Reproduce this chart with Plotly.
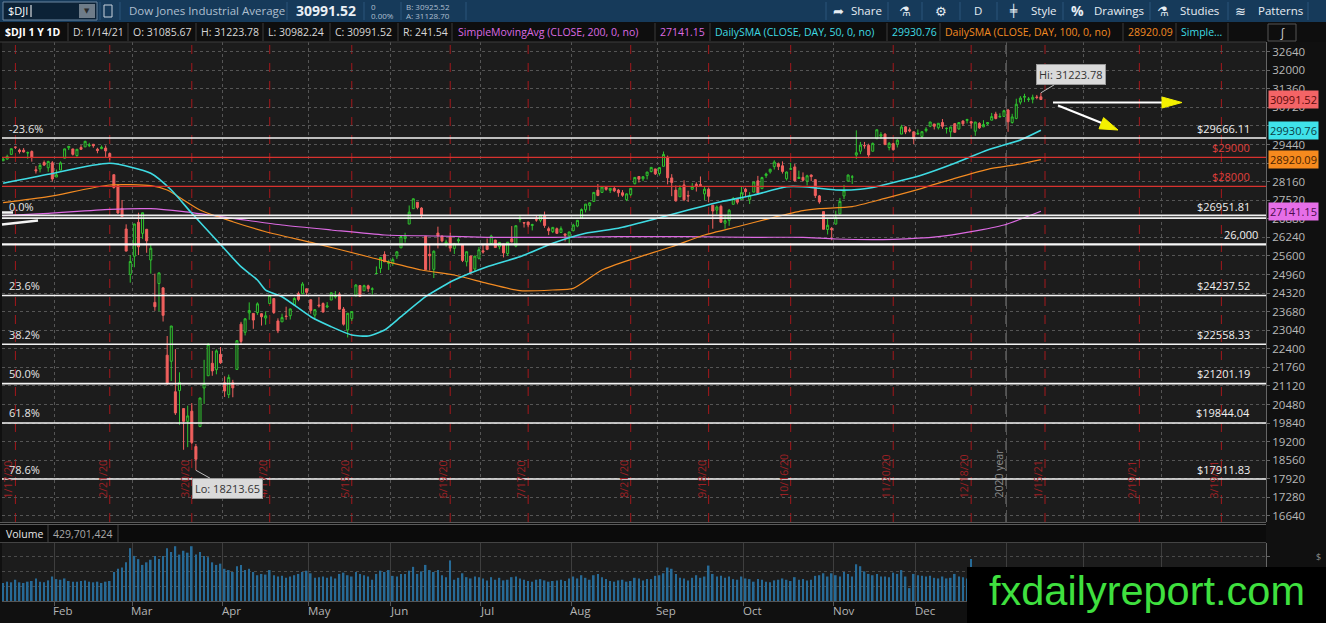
import pandas as pd
import plotly.graph_objects as go

# =========================
# TRADING DAYS
# =========================
HOLIDAYS = ["2020-01-20", "2020-02-17", "2020-04-10", "2020-05-25", "2020-07-03",
            "2020-09-07", "2020-11-26", "2020-12-25", "2021-01-01", "2021-01-18",
            "2021-02-15"]
DAYS = pd.bdate_range("2020-01-14", "2021-03-31", freq="C", holidays=HOLIDAYS)

# =========================
# $DJI DAILY CANDLES (1/14/20 -> 1/14/21)
# =========================
OPENS = [
    28880, 28940, 29100, 29350, 29250, 29245, 29150, 29200, 28570, 28600, 28820, 28640, 28810,
    28320, 28560, 28970, 29330, 29290, 29060, 29340, 29360, 29400, 29450, 29280, 29300, 29320, 29130, 28400, 28030, 27240, 26530, 24960,
    25590, 26760, 26380, 26520, 25460, 24000, 24650, 24500, 22180, 21970, 20920, 20960, 20340, 19900, 20250, 19030, 19720, 21050, 21470, 21900, 21680, 22210,
    21230, 20820, 21230, 21690, 23250, 22970, 23640, 23620, 23650, 23610, 23460, 23960, 24130, 23360, 23330, 23530, 23540, 23910, 24300, 24300, 24470,
    24090, 23560, 23910, 23960, 23840, 24080, 24190, 24270, 23770, 23050, 23440, 24220, 24580, 24400, 24570, 24450, 24990, 25170, 25650, 25340,
    25340, 25600, 25880, 26200, 26700, 27230, 27450, 27250, 26280, 25660, 25140, 26390, 26290, 26000, 26250, 25860, 26120, 25990, 25400, 25600, 25150, 25520,
    25780, 25960, 26030, 26150, 25920, 26010, 25680, 26190, 25940, 26860, 26750, 26770, 26650, 26850, 26830, 26990, 26540, 26440, 26540, 26410, 26360, 26290,
    26470, 26630, 26900, 27190, 27340, 27480, 27870, 27790, 27970, 27860, 27930, 27870, 27780, 27540, 27720, 28090, 28340, 28260, 28370, 28510, 28600,
    28440, 28690, 29000, 28290, 27870, 27640, 28050, 27680, 27900, 28070, 28060, 27740, 27900, 27350, 27180, 27310, 26730, 26830, 27380, 27560, 27550,
    27900, 27540, 27800, 28190, 27920, 28370, 28500, 28680, 28780, 28710, 28260, 28590, 28670, 28270, 28310, 28180, 28390, 28230, 27670, 27130, 26510, 26550,
    26700, 27050, 27670, 28180, 28320, 29080, 29210, 29410, 29410, 29210, 29640, 29730, 29800, 29340, 29470, 29450, 29800, 30050, 29950, 29880,
    29800, 29720, 29920, 30070, 30150, 30020, 30200, 29990, 29880, 30160, 29980, 30250, 30270, 30230, 29900, 30170, 30050, 30150, 30280, 30490, 30390, 30410,
    30630, 30200, 30340, 30900, 31070, 30990, 31000, 31080, 31086,
]
HIGHS = [
    29010, 29090, 29300, 29374, 29300, 29320, 29200, 29240, 28700, 28780, 28890, 28880, 28870,
    28580, 28860, 29300, 29380, 29290, 29280, 29420, 29570, 29500, 29450, 29330, 29410, 29410, 29170, 28400, 28070, 27530, 26690, 25630,
    26710, 27090, 27100, 26530, 25990, 24990, 25020, 24520, 22840, 23190, 22390, 21590, 20340, 20440, 20530, 19120, 20710, 22020, 22600, 22330, 22380, 22460,
    21450, 21510, 21330, 22700, 23330, 23460, 24000, 23620, 24000, 23630, 23690, 24260, 24130, 23450, 23610, 23850, 23790, 24180, 24370, 24700, 24470,
    24090, 23760, 24180, 24000, 24010, 24340, 24390, 24350, 23840, 23630, 23690, 24630, 24600, 24610, 24610, 24520, 25240, 25550, 25760, 25470,
    25550, 25760, 26290, 26400, 27340, 27580, 27450, 27280, 26280, 26000, 25790, 26610, 26300, 26160, 26400, 26050, 26230, 25990, 25750, 25600, 25600, 25910,
    26000, 26200, 26330, 26150, 26080, 26010, 26080, 26630, 26650, 27000, 26770, 26780, 26710, 27000, 27010, 27130, 26610, 26600, 26580, 26620, 26370, 26430,
    26710, 26830, 27240, 27390, 27440, 27800, 28080, 28000, 28010, 27940, 27990, 27910, 27870, 27760, 27940, 28310, 28350, 28340, 28500, 28660, 28600,
    28660, 29200, 29060, 28420, 28030, 28040, 28210, 27850, 28110, 28140, 28340, 27980, 27960, 27350, 27340, 27370, 27000, 27220, 27630, 27560, 27980,
    27950, 27800, 28150, 28360, 28330, 28470, 28610, 28900, 28820, 28860, 28510, 28810, 28770, 28540, 28480, 28400, 28410, 28230, 27700, 27130, 26880, 26600,
    27160, 27600, 28050, 28410, 28390, 29930, 29530, 29530, 29470, 29510, 29960, 29870, 29830, 29530, 29500, 29620, 30120, 30070, 30030, 29880,
    29960, 29900, 30040, 30220, 30150, 30180, 30320, 30030, 30050, 30180, 30200, 30280, 30330, 30230, 30220, 30210, 30280, 30200, 30530, 30570, 30520, 30640,
    30670, 30500, 31020, 31110, 31190, 31080, 31160, 31150, 31224,
]
LOWS = [
    28880, 28920, 29100, 29287, 29128, 29165, 28950, 28850, 28440, 28480, 28700, 28500, 28170,
    28320, 28560, 28970, 29250, 29060, 29020, 29260, 29360, 29350, 29330, 29140, 29280, 28990, 28900, 27920, 27050, 26940, 25760, 24680,
    25210, 25630, 26190, 25710, 24990, 23710, 23690, 23340, 21150, 21290, 20120, 19780, 18920, 19010, 19120, 18214, 19720, 20500, 21470, 21470, 21520, 21880,
    20740, 20700, 20730, 21690, 22570, 22860, 23400, 23090, 23570, 23200, 23230, 23960, 23600, 22940, 23330, 23400, 23410, 23910, 24040, 24300, 24230,
    23610, 23410, 23820, 23660, 23800, 24080, 24130, 23760, 23200, 22790, 23360, 24220, 24200, 24400, 24360, 24270, 24990, 25010, 25400, 25120,
    25260, 25500, 25880, 26060, 26700, 27230, 27210, 26900, 25120, 25100, 24840, 25860, 26070, 25920, 25760, 25670, 26030, 25390, 25240, 24970, 25060, 25480,
    25680, 25800, 26030, 25880, 25830, 25550, 25600, 26070, 25900, 26760, 26580, 26590, 26480, 26780, 26760, 26570, 26320, 26390, 26370, 26410, 26100, 26000,
    26450, 26590, 26900, 27100, 27160, 27460, 27660, 27790, 27850, 27770, 27800, 27640, 27640, 27490, 27660, 28070, 28130, 28180, 28240, 28480, 28390,
    28370, 28690, 28070, 27660, 27470, 27640, 27490, 27460, 27880, 27820, 28010, 27530, 27450, 26540, 27030, 26740, 26540, 26640, 27380, 27380, 27550,
    27630, 27390, 27800, 27720, 27920, 28290, 28440, 28580, 28560, 28440, 28200, 28560, 28160, 28260, 28170, 28030, 28180, 27600, 27400, 26520, 26340, 26140,
    26680, 27050, 27560, 28180, 28080, 28940, 29110, 29300, 28970, 29200, 29640, 29640, 29430, 29240, 29230, 29340, 29800, 29800, 29860, 29450,
    29790, 29660, 29860, 30040, 29960, 29960, 29980, 29820, 29690, 29850, 29950, 30080, 30170, 29990, 29740, 29980, 30040, 30110, 30280, 30310, 30380, 30390,
    29880, 30160, 30310, 30820, 30900, 30910, 30860, 31000, 30982,
]
CLOSES = [
    28940, 29030, 29298, 29348, 29196, 29186, 29160, 28990, 28536, 28723, 28734, 28859, 28256,
    28400, 28808, 29291, 29380, 29103, 29277, 29276, 29551, 29423, 29398, 29232, 29348, 29220, 28992, 27961, 27081, 26958, 25767, 25409,
    26703, 25917, 27091, 26121, 25865, 23851, 25018, 23553, 21201, 23186, 20189, 21237, 19899, 20087, 19174, 18592, 20705, 21201, 22552, 21637, 22327, 21917,
    20944, 21413, 21053, 22680, 22654, 23434, 23719, 23391, 23950, 23504, 23538, 24242, 23650, 23019, 23476, 23515, 23775, 24134, 24102, 24634, 24346,
    23724, 23750, 23883, 23665, 23876, 24331, 24222, 23765, 23248, 23625, 23685, 24597, 24207, 24576, 24474, 24465, 24995, 25548, 25401, 25383,
    25475, 25743, 26270, 26282, 27111, 27572, 27272, 26990, 25128, 25606, 25763, 26290, 26120, 26080, 25871, 26025, 26156, 25446, 25746, 25016, 25596, 25813,
    25735, 25827, 26287, 25890, 26067, 25706, 26075, 26086, 26643, 26870, 26735, 26672, 26681, 26840, 27006, 26652, 26470, 26585, 26379, 26540, 26314, 26428,
    26664, 26828, 27202, 27387, 27433, 27791, 27687, 27977, 27897, 27931, 27845, 27778, 27693, 27740, 27930, 28308, 28248, 28332, 28492, 28654, 28430,
    28646, 29100, 28293, 28133, 27501, 27940, 27535, 27666, 27993, 27996, 28032, 27902, 27657, 27148, 27288, 26763, 26815, 27174, 27584, 27453, 27782,
    27817, 27683, 28149, 27773, 28303, 28426, 28587, 28838, 28680, 28514, 28494, 28606, 28195, 28309, 28211, 28364, 28336, 27685, 27463, 26520, 26659, 26502,
    26925, 27480, 27848, 28390, 28323, 29158, 29421, 29398, 29080, 29480, 29950, 29783, 29438, 29483, 29263, 29591, 30046, 29872, 29910, 29639,
    29824, 29884, 29970, 30218, 30070, 30174, 30069, 29999, 30046, 29862, 30199, 30155, 30303, 30179, 30216, 30016, 30130, 30200, 30404, 30336, 30410, 30606,
    30224, 30392, 30829, 31041, 31098, 31009, 31069, 31060, 30992,
]
# volume, millions of shares
VOLUME = [
    280, 300, 290, 330, 290, 280, 300, 310, 350, 300, 290, 320, 380,
    340, 330, 350, 310, 300, 300, 310, 320, 300, 290, 300, 280, 300, 310, 450, 500, 520, 600, 820,
    700, 650, 560, 600, 640, 700, 650, 700, 820, 760, 850, 720, 780, 750, 850, 720, 760, 700, 680, 600, 560, 580,
    500, 480, 450, 540, 560, 480, 500, 450, 400, 420, 410, 480, 400, 380, 390, 360, 380, 400, 420, 450, 470,
    430, 360, 370, 380, 360, 380, 350, 420, 440, 400, 380, 450, 420, 400, 380, 330, 420, 470, 450, 480,
    390, 380, 420, 420, 470, 530, 420, 460, 560, 480, 450, 480, 400, 370, 630, 330, 360, 430, 370, 350, 380, 370,
    350, 320, 370, 330, 360, 320, 330, 370, 380, 350, 330, 310, 300, 330, 340, 320, 300, 310, 320, 330, 310, 350,
    380, 350, 400, 360, 330, 400, 420, 370, 340, 310, 300, 320, 330, 300, 310, 360, 350, 320, 340, 340, 390,
    400, 430, 520, 500, 420, 360, 350, 320, 360, 400, 360, 380, 550, 420, 380, 390, 360, 380, 340, 330, 380,
    350, 340, 300, 340, 330, 300, 290, 320, 330, 350, 330, 310, 370, 330, 340, 320, 330, 390, 400, 430, 380, 430,
    400, 380, 450, 420, 380, 570, 540, 460, 420, 400, 420, 380, 380, 370, 440, 420, 480, 380, 200, 420,
    400, 390, 380, 390, 360, 350, 380, 350, 360, 420, 380, 370, 350, 650, 400, 350, 340, 240, 330, 300, 330, 400,
    450, 480, 520, 460, 420, 400, 410, 420, 430,
]

# =========================
# MOVING AVERAGES (read off the chart, sampled)
# =========================
SMA50_IDX = [0, 11, 26, 36, 41, 46, 52, 58, 62, 64, 68, 75, 80, 85, 89, 93, 97, 103, 107, 110,
             118, 126, 134, 142, 150, 158, 167, 175, 183, 191, 195, 199, 203, 209, 212, 224, 232, 240, 248, 253]
SMA50_VAL = [28104, 28415, 28794, 28449, 27873, 27070, 26150, 25230, 24771, 24426, 24195, 23506, 23162, 22875,
             22841, 23048, 23506, 24195, 24540, 24771, 25230, 25574, 26036, 26381, 26553, 26839, 27184, 27470,
             27701, 27987, 27987, 27932, 27873, 27898, 27960, 28391, 28794, 29252, 29597, 29931]
SMA100_IDX = [0, 11, 26, 36, 40, 48, 56, 64, 76, 89, 102, 110, 118, 126, 134, 139, 146, 154, 163, 171,
              179, 187, 195, 199, 207, 215, 224, 232, 240, 248, 253]
SMA100_VAL = [27436, 27643, 28046, 28023, 27873, 27184, 26781, 26436, 26036, 25574, 25116, 24944, 24657, 24402,
              24426, 24484, 25116, 25518, 25918, 26322, 26608, 26898, 27160, 27230, 27300, 27587, 27932, 28277,
              28587, 28770, 28920]
SMA200_IDX = [0, 11, 26, 36, 44, 56, 68, 80, 93, 106, 118, 134, 150, 167, 183, 195, 203, 217, 228, 236, 244, 253]
SMA200_VAL = [26988, 27070, 27208, 27229, 27126, 26898, 26667, 26495, 26322, 26288, 26243, 26243, 26264, 26264,
              26243, 26243, 26184, 26174, 26264, 26436, 26667, 27141]

# =========================
# LEVELS / LABELS
# =========================
FIB_LEVELS = [29666.11, 26951.81, 24237.52, 22558.33, 21201.19, 19844.04, 17911.83]
FIB_PCT = ["-23.6%", "0.0%", "23.6%", "38.2%", "50.0%", "61.8%", "78.6%"]
RED_LEVELS = [29000, 28000]
SUPPORT = 26000
Y_TICKS = [16640, 17280, 17920, 18560, 19200, 19840, 20480, 21120, 21760, 22400, 23040, 23680, 24320,
           24960, 25600, 26240, 26880, 27520, 28160, 28800, 29440, 30080, 30720, 31360, 32000, 32640]
HIDDEN_TICKS = [28800, 30080]  # sit under the price tags
EXPIRY = ["2020-01-17", "2020-02-21", "2020-03-20", "2020-04-17", "2020-05-15", "2020-06-19",
          "2020-07-17", "2020-08-21", "2020-09-18", "2020-10-16", "2020-11-20", "2020-12-18",
          "2021-01-15", "2021-02-19", "2021-03-19"]
LAST_CLOSE = 30991.52
SMA200_LAST, SMA50_LAST, SMA100_LAST = 27141.15, 29930.76, 28920.09
HI_VAL, LO_VAL = 31223.78, 18213.65
VOLUME_LAST = "429,701,424"

# =========================
# PIXEL HELPERS
# =========================
W, H = 1326, 623
L, R, T, B = 2, 1266, 42, 601
FONT = "Open Sans, DejaVu Sans, sans-serif"
PLOT_BG = "#1c1c1c"
GREEN, RED = "#2fc42f", "#f0605e"
CYAN, ORANGE, MAGENTA = "#3fdbe3", "#f38b22", "#dc6ae2"

def px(x):
    return (x - L) / (R - L)

def py(y):
    return (B - y) / (B - T)

shapes, annots = [], []

def rect(x0, y0, x1, y1, fill, line=None, lw=1):
    shapes.append(dict(type="rect", xref="paper", yref="paper", x0=px(x0), x1=px(x1), y0=py(y1), y1=py(y0),
                       fillcolor=fill, line=dict(color=line or fill, width=lw if line else 0), layer="above"))

def seg(x0, y0, x1, y1, color, lw=1, dash="solid"):
    shapes.append(dict(type="line", xref="paper", yref="paper", x0=px(x0), x1=px(x1), y0=py(y0), y1=py(y1),
                       line=dict(color=color, width=lw, dash=dash), layer="above"))

def tri(pts, color):
    path = "M " + " L ".join(f"{px(a)},{py(b)}" for a, b in pts) + " Z"
    shapes.append(dict(type="path", xref="paper", yref="paper", path=path, fillcolor=color,
                       line=dict(color=color, width=1), layer="above"))

def text(x, y, s, color="#dddddd", size=10.5, anchor="left", bold=False, family=FONT):
    annots.append(dict(xref="paper", yref="paper", x=px(x), y=py(y), text=f"<b>{s}</b>" if bold else s,
                       showarrow=False, xanchor=anchor, yanchor="middle", borderpad=0,
                       font=dict(color=color, size=size, family=family)))

idx = lambda d: DAYS.get_loc(pd.Timestamp(d))
X = list(range(len(CLOSES)))
XR = [(L - 3.1) / 4.102, (R - 3.1) / 4.102]

# month boundaries (grid) and labels
month_starts = [i for i in range(1, len(DAYS)) if DAYS[i].month != DAYS[i - 1].month]
month_grid = [i - 0.5 for i in month_starts]

# =========================
# FIGURE
# =========================
fig = go.Figure()

fig.add_trace(go.Candlestick(
    x=X, open=OPENS, high=HIGHS, low=LOWS, close=CLOSES,
    increasing=dict(line=dict(color=GREEN, width=1), fillcolor=PLOT_BG),
    decreasing=dict(line=dict(color=RED, width=1), fillcolor=RED),
    whiskerwidth=0, hoverinfo="skip", xaxis="x", yaxis="y"))

for xs, ys, col, w in [(SMA200_IDX, SMA200_VAL, MAGENTA, 1.2),
                       (SMA100_IDX, SMA100_VAL, ORANGE, 1.2),
                       (SMA50_IDX, SMA50_VAL, CYAN, 1.6)]:
    fig.add_trace(go.Scatter(x=xs, y=ys, mode="lines", hoverinfo="skip",
                             line=dict(color=col, width=w, shape="spline", smoothing=0.6),
                             xaxis="x", yaxis="y"))

fig.add_trace(go.Bar(x=X, y=VOLUME, marker=dict(color="#276a96", line=dict(width=0)), width=0.4,
                     hoverinfo="skip", xaxis="x2", yaxis="y2"))

# --- expiration lines + rotated dates
for d in EXPIRY:
    ts = pd.Timestamp(d)
    i = idx(d)
    shapes.append(dict(type="line", xref="x", yref="paper", x0=i, x1=i, y0=py(522), y1=1,
                       line=dict(color="#a3181c", width=1, dash="dash"), layer="below"))
    annots.append(dict(xref="x", yref="paper", x=i, y=py(500), xshift=-7, yanchor="bottom",
                       text=f"{ts.month}/{ts.day}/{ts.strftime('%y')}", textangle=-90, showarrow=False,
                       font=dict(color="#9c2024", size=10.5, family=FONT)))

# --- year separator
yr = idx("2021-01-04") - 0.5
shapes.append(dict(type="line", xref="x", yref="paper", x0=yr, x1=yr, y0=py(522), y1=1,
                   line=dict(color="#8a8a8a", width=1, dash="dash"), layer="below"))
annots.append(dict(xref="x", yref="paper", x=yr, y=py(500), xshift=-8, yanchor="bottom", text="2020 year",
                   textangle=-90, showarrow=False, font=dict(color="#8c8c8c", size=10.5, family=FONT)))

# --- fibonacci levels
for lvl, pct in zip(FIB_LEVELS, FIB_PCT):
    if lvl == FIB_LEVELS[1]:
        for off in (-48, 48):
            shapes.append(dict(type="line", xref="paper", yref="y", x0=0, x1=1, y0=lvl + off, y1=lvl + off,
                               line=dict(color="#f0f0f0", width=1.6), layer="above"))
    else:
        shapes.append(dict(type="line", xref="paper", yref="y", x0=0, x1=1, y0=lvl, y1=lvl,
                           line=dict(color="#f4f4f4", width=1.6), layer="above"))
    annots.append(dict(xref="paper", yref="y", x=px(7), y=lvl, yshift=10, xanchor="left", showarrow=False,
                       text=pct, font=dict(color="#e6e6e6", size=11, family=FONT)))
    annots.append(dict(xref="paper", yref="y", x=px(1252), y=lvl, yshift=10, xanchor="right",
                       showarrow=False, text=f"${lvl:.2f}", font=dict(color="#f0f0f0", size=11, family=FONT)))

for lvl in RED_LEVELS:
    shapes.append(dict(type="line", xref="paper", yref="y", x0=0, x1=1, y0=lvl, y1=lvl,
                       line=dict(color="#d8322e", width=1.2), layer="above"))
    annots.append(dict(xref="paper", yref="y", x=px(1252), y=lvl, yshift=10, xanchor="right",
                       showarrow=False, text=f"${lvl}", font=dict(color="#e0403c", size=11, family=FONT)))

shapes.append(dict(type="line", xref="paper", yref="y", x0=0, x1=1, y0=SUPPORT, y1=SUPPORT,
                   line=dict(color="#f8f8f8", width=2.4), layer="above"))
annots.append(dict(xref="paper", yref="y", x=px(1260), y=SUPPORT, yshift=10, xanchor="right",
                   showarrow=False, text=f"{SUPPORT:,}", font=dict(color="#f0f0f0", size=11, family=FONT)))

# small trendline fragments at the left edge
seg(2, 212.5, 13, 212.5, "#f4f4f4", 2.5)
seg(2, 224.5, 38, 220.5, "#f4f4f4", 2.5)

# --- arrows
seg(1053, 102.5, 1164, 102.5, "#ffffff", 2)
tri([(1182, 102.5), (1162, 97), (1162, 108)], "#f4f000")
seg(1058, 105.5, 1103, 123.5, "#ffffff", 2)
tri([(1118, 130), (1099, 128.8), (1103.6, 117.6)], "#f4f000")

# --- Hi / Lo callouts
annots.append(dict(xref="x", yref="y", x=X[-1], y=HI_VAL, ax=30, ay=-18, text=f"Hi: {HI_VAL:.2f}",
                   showarrow=True, arrowhead=0, arrowcolor="#bdbdbd", arrowwidth=1, bgcolor="#dadada",
                   bordercolor="#9a9a9a", borderpad=2, font=dict(color="#333333", size=11, family=FONT)))
lo_i = LOWS.index(min(LOWS))
annots.append(dict(xref="x", yref="y", x=lo_i, y=LO_VAL, ax=32, ay=18, text=f"Lo: {LO_VAL:.2f}",
                   showarrow=True, arrowhead=0, arrowcolor="#bdbdbd", arrowwidth=1, bgcolor="#dadada",
                   bordercolor="#9a9a9a", borderpad=2, font=dict(color="#333333", size=11, family=FONT)))

# --- price tags on the axis
for val, bg, fg in [(LAST_CLOSE, "#f46466", "#5a0a0a"), (SMA50_LAST, "#3fe3ea", "#0a3e44"),
                    (SMA100_LAST, "#f68a1e", "#4a2300"), (SMA200_LAST, "#e66ee8", "#4a0d4c")]:
    annots.append(dict(xref="paper", yref="y", x=1, xshift=2, y=val, xanchor="left", showarrow=False,
                       text=f"{val:.2f}", bgcolor=bg, borderpad=1, font=dict(color=fg, size=11, family=FONT)))

# --- month labels
for i in month_starts:
    if i < idx("2021-01-04"):
        annots.append(dict(xref="x", yref="paper", x=i - 0.5, xshift=-3, y=py(611), xanchor="left",
                           yanchor="middle", showarrow=False, text=DAYS[i].strftime("%b"),
                           font=dict(color="#b4b4b4", size=11.5, family=FONT)))

# =========================
# CHROME: toolbar, study header, volume header, watermark
# =========================
rect(0, 0, W, 22, "#163a5a")
rect(3, 2, 97, 20, "#0c2236", "#6a86a0")
text(7, 11, "$DJI", "#ffffff", 11)
seg(31, 5, 31, 17, "#ffffff", 1)
rect(79, 4, 95, 18, "#6e7c89")
text(87, 11, "▼", "#2a2a2a", 7, "center")
rect(104, 5, 112, 17, "#163a5a", "#c8d2dc")
for sx in [100, 120, 287, 364, 401, 466, 826, 888, 922, 960, 997, 1063, 1150, 1228, 1308]:
    seg(sx, 2, sx, 20, "#2b557a", 1)
text(128, 11, "Dow Jones Industrial Average", "#aebfcf", 11.5)
text(295, 11, "30991.52", "#e9eff5", 14, bold=True)
text(370, 7, "0", "#aebfcf", 8)
text(370, 16, "0.00%", "#aebfcf", 8)
text(405, 7, "B: 30925.52", "#aebfcf", 8)
text(405, 16, "A: 31128.70", "#aebfcf", 8)
text(832, 11, "➦", "#e6edf3", 13)
text(850, 11, "Share", "#e6edf3", 11.5)
text(905, 11, "⚗", "#e6edf3", 13, "center")
text(941, 11, "⚙", "#e6edf3", 13, "center")
text(978, 11, "D", "#e6edf3", 11.5, "center")
text(1013, 11, "╪", "#e6edf3", 12, "center")
text(1030, 11, "Style", "#e6edf3", 11.5)
text(1077, 11, "%", "#e6edf3", 14, "center", bold=True)
text(1093, 11, "Drawings", "#e6edf3", 11.5)
text(1163, 11, "⚗", "#e6edf3", 13, "center")
text(1179, 11, "Studies", "#e6edf3", 11.5)
text(1240, 11, "≋", "#e6edf3", 13, "center")
text(1257, 11, "Patterns", "#e6edf3", 11.5)

rect(0, 22, W, 42, "#0e0e0e")
seg(0, 42, R, 42, "#3c3c3c", 1)
for sx in [68, 128, 196, 263, 330, 398, 452, 655, 710, 887, 940, 1123, 1176, 1228]:
    seg(sx, 23, sx, 41, "#3a3a3a", 1)
text(4, 32, "$DJI 1 Y 1D", "#ffffff", 10.5, bold=True)
text(72, 32, "D: 1/14/21", "#d8d8d8", 10.5)
text(132, 32, "O: 31085.67", "#d8d8d8", 10.5)
text(200, 32, "H: 31223.78", "#d8d8d8", 10.5)
text(267, 32, "L: 30982.24", "#d8d8d8", 10.5)
text(334, 32, "C: 30991.52", "#d8d8d8", 10.5)
text(402, 32, "R: 241.54", "#d8d8d8", 10.5)
text(457, 32, "SimpleMovingAvg (CLOSE, 200, 0, no)", MAGENTA, 10.5)
text(659, 32, f"{SMA200_LAST:.2f}", MAGENTA, 10.5)
text(714, 32, "DailySMA (CLOSE, DAY, 50, 0, no)", CYAN, 10.5)
text(891, 32, f"{SMA50_LAST:.2f}", CYAN, 10.5)
text(944, 32, "DailySMA (CLOSE, DAY, 100, 0, no)", ORANGE, 10.5)
text(1127, 32, f"{SMA100_LAST:.2f}", ORANGE, 10.5)
text(1180, 32, "Simple...", CYAN, 10.5)
rect(1268, 24, 1296, 41, "#0e0e0e", "#555555")
text(1282, 32, "∫", "#d0d0d0", 12, "center")

rect(0, 522, R, 543, "#0b0b0b")
seg(0, 522.5, R, 522.5, "#5a5a5a", 1)
seg(0, 524.5, R, 524.5, "#5a5a5a", 1)
seg(0, 542.5, R, 542.5, "#444444", 1)
seg(48, 525, 48, 542, "#444444", 1)
seg(118, 525, 118, 542, "#444444", 1)
text(5, 533.5, "Volume", "#e6e6e6", 10.5)
text(52, 533.5, VOLUME_LAST, "#a8a8a8", 10.5)
text(1318, 556, "$", "#8a8a8a", 9, "center")

rect(967, 567, W, H, "#000000")
text(1147, 590, "fxdailyreport.com", "#3fe03f", 41.5, "center", family="Liberation Sans, Arial, sans-serif")

# =========================
# LAYOUT
# =========================
fig.update_layout(
    width=W, height=H, margin=dict(l=L, r=W - R, t=T, b=H - B),
    paper_bgcolor="#101010", plot_bgcolor=PLOT_BG, showlegend=False, hovermode=False,
    shapes=shapes, annotations=annots,
    xaxis=dict(domain=[0, 1], range=XR, anchor="y", tickvals=month_grid, showticklabels=False,
               showgrid=True, gridcolor="#555555", griddash="dot", gridwidth=1, zeroline=False,
               ticks="", showline=False, rangeslider=dict(visible=False)),
    xaxis2=dict(domain=[0, 1], range=XR, anchor="y2", matches="x", tickvals=month_grid,
                showticklabels=False, showgrid=True, gridcolor="#3e3e3e", zeroline=False,
                ticks="outside", ticklen=4, tickcolor="#555555", showline=True, linecolor="#555555"),
    yaxis=dict(domain=[py(522), 1], range=[16430, 32975], side="right", tickvals=Y_TICKS,
               ticktext=["" if v in HIDDEN_TICKS else str(v) for v in Y_TICKS],
               tickfont=dict(color="#b8b8b8", size=11.5, family=FONT),
               showgrid=True, gridcolor="#555555", griddash="dot", ticks="outside", ticklen=3,
               tickcolor="#666666", showline=True, linecolor="#666666", zeroline=False),
    yaxis2=dict(domain=[0, py(543)], range=[0, 900], side="right", showticklabels=False,
                tickvals=[230, 460, 690], showgrid=True, gridcolor="#4a4a4a", griddash="dot",
                showline=True, linecolor="#666666", zeroline=False, ticks="outside", ticklen=3,
                tickcolor="#666666"),
)

# the page body has a default 8px margin; drop it so the figure sits at the window corner
fig.write_html("out.html", config={"displayModeBar": False},
               post_script="document.body.style.margin='0';document.body.style.overflow='hidden';")
